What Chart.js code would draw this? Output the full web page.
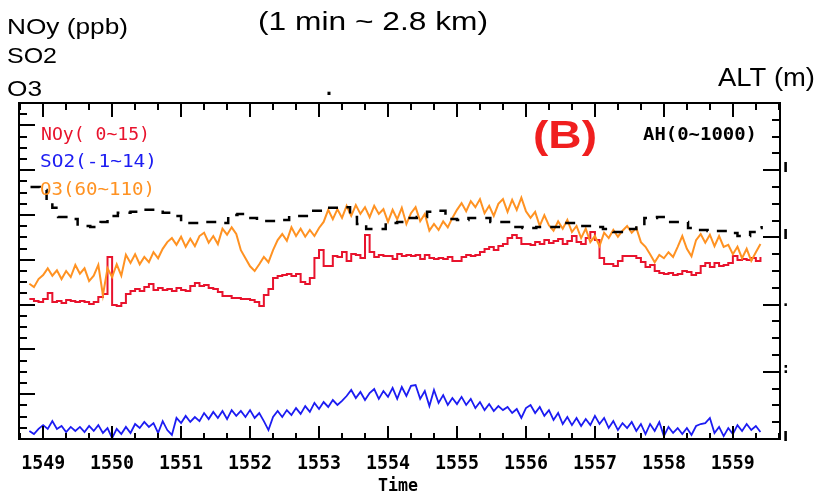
<!DOCTYPE html>
<html>
<head>
<meta charset="utf-8">
<script src="https://cdn.jsdelivr.net/npm/chart.js@4.4.1/dist/chart.umd.min.js"></script>
<style>
  html, body { margin: 0; padding: 0; background: #fff; }
  canvas { display: block; }
</style>
</head>
<body>
<canvas id="chart" width="830" height="493"></canvas>
<script>
// seconds after 15:49:00, one reading every 4 s
const secs = [-12,-8,-4,0,4,8,12,16,20,24,28,32,36,40,44,48,52,56,60,64,68,72,76,80,84,88,92,96,100,104,
  108,112,116,120,124,128,132,136,140,144,148,152,156,160,164,168,172,176,180,184,188,192,196,200,204,208,212,216,220,224,
  228,232,236,240,244,248,252,256,260,264,268,272,276,280,284,288,292,296,300,304,308,312,316,320,324,328,332,336,340,344,
  348,352,356,360,364,368,372,376,380,384,388,392,396,400,404,408,412,416,420,424,428,432,436,440,444,448,452,456,460,464,
  468,472,476,480,484,488,492,496,500,504,508,512,516,520,524,528,532,536,540,544,548,552,556,560,564,568,572,576,580,584,
  588,592,596,600,604,608,612,616,620,624];

// NOy (ppb), left axis 0~15
const noy = [6.25,6.16,6.12,6.25,6.52,6.12,6.16,6.07,6.21,6.16,
  6.12,6.16,6.12,6.03,6.12,6.34,6.47,8.13,5.98,5.94,
  6.07,6.47,6.61,6.70,6.61,6.79,6.92,6.65,6.74,6.65,
  6.70,6.61,6.74,6.65,6.61,6.83,6.96,6.83,6.88,6.74,
  6.70,6.56,6.38,6.38,6.29,6.29,6.25,6.25,6.21,6.12,
  5.94,6.43,6.70,7.19,7.28,7.32,7.37,7.28,7.37,7.01,
  6.92,7.19,8.08,8.44,7.72,7.72,8.17,8.13,8.35,7.95,
  8.26,8.21,8.08,9.11,8.35,8.13,8.21,8.17,8.17,8.04,
  8.26,8.17,8.21,8.17,8.21,8.04,8.21,8.08,8.04,8.08,
  8.04,8.13,7.95,7.95,8.13,8.21,8.17,8.21,8.35,8.48,
  8.57,8.44,8.62,8.71,8.97,9.11,8.97,8.71,8.71,8.66,
  8.79,8.71,8.88,8.75,8.84,8.93,8.71,8.84,9.06,8.79,
  8.71,8.97,9.24,8.88,8.08,7.81,7.81,7.72,7.95,8.17,
  8.17,8.17,8.08,7.90,7.68,7.77,7.50,7.41,7.37,7.41,
  7.32,7.37,7.50,7.46,7.32,7.41,7.72,7.86,7.68,7.86,
  7.72,7.77,7.86,8.17,7.99,8.04,7.99,8.08,7.95,8.13];

// SO2, scaled -1~14
const so2 = [-0.64,-0.78,-0.55,-0.38,-0.55,-0.20,-0.55,-0.42,-0.69,-0.46,
  -0.64,-0.46,-0.69,-0.42,-0.64,-0.38,-0.73,-0.51,-0.96,-0.55,
  -0.78,-0.46,-0.73,-0.33,-0.51,-0.24,-0.46,-0.29,-0.73,-0.20,
  -0.60,-0.82,-0.06,-0.29,0.03,-0.24,-0.02,-0.20,0.16,-0.11,
  0.21,-0.06,0.25,-0.11,0.29,0.03,0.25,-0.02,0.29,-0.06,
  0.16,-0.20,-0.60,-0.02,0.25,-0.02,0.29,0.07,0.38,0.12,
  0.47,0.21,0.61,0.34,0.65,0.43,0.74,0.52,0.70,0.92,
  1.19,0.83,1.10,0.74,1.05,1.23,0.79,1.14,0.88,1.28,
  0.79,1.32,0.92,1.37,1.41,0.79,1.14,0.47,1.19,0.61,
  0.96,0.52,0.83,0.56,0.88,0.52,0.79,0.38,0.65,0.29,
  0.56,0.25,0.47,0.29,0.43,0.16,0.34,-0.06,0.38,0.52,
  0.16,0.43,0.03,0.29,-0.15,0.16,-0.33,-0.02,-0.38,-0.06,
  -0.42,-0.11,-0.38,0.03,-0.33,-0.06,-0.51,-0.20,-0.60,-0.29,
  -0.51,-0.24,-0.64,-0.33,-0.78,-0.33,-0.64,-0.24,-0.87,-0.46,
  -0.73,-0.51,-0.78,-0.51,-0.82,-0.42,-0.33,-0.29,-0.06,-0.73,
  -0.46,-0.87,-0.51,-0.78,-0.38,-0.64,-0.33,-0.60,-0.42,-0.69];

// O3, scaled 60~110
const o3 = [83.1,82.6,83.8,84.4,85.4,84.3,85.1,83.8,85.0,84.1,
  85.9,84.6,85.4,83.5,84.3,85.9,81.4,85.4,84.1,86.0,
  84.3,87.4,86.2,87.5,86.0,87.1,86.3,87.8,86.9,88.3,
  89.3,89.9,88.9,90.1,88.6,89.8,88.7,90.2,90.7,89.2,
  90.2,89.0,91.3,90.4,91.5,90.5,88.1,86.9,85.7,85.0,
  86.0,87.1,86.3,88.1,89.6,90.5,89.5,91.5,90.2,91.3,
  90.1,91.1,90.2,91.4,92.3,94.1,92.7,94.2,92.9,94.7,
  93.2,94.8,93.5,94.5,93.0,94.7,93.5,94.2,92.3,94.1,
  92.7,94.4,92.0,93.6,94.5,92.4,93.5,91.0,92.0,91.1,
  92.4,91.5,92.9,94.1,95.1,93.9,95.4,94.5,95.7,93.6,
  94.7,93.2,95.0,95.7,93.8,95.6,94.1,95.9,93.9,92.9,
  93.8,91.7,93.3,91.8,91.0,92.4,91.3,92.6,90.8,91.7,
  89.9,91.3,89.3,90.2,88.7,90.7,89.9,91.1,90.1,91.0,
  91.7,90.7,91.4,89.3,88.6,87.5,86.3,87.4,86.9,87.8,
  87.1,88.6,90.2,88.3,87.2,89.6,90.5,89.2,90.4,88.7,
  90.2,88.6,88.9,87.5,88.6,86.9,88.3,86.5,87.8,89.0];

// aircraft altitude (m), right axis 0~1000
const altSecs = [-11,-3,3,8,13,23,30,41,50,56,65,76,85,96,104,112,120,130,141,151,161,169,178,186,196,
  206,214,223,235,243,254,261,267,273,281,290,298,308,315,325,334,341,350,360,370,380,389,399,409,417,
  429,439,450,458,467,478,487,496,508,516,523,534,543,551,561,569,578,586,596,604,615,622,625];
const alt = [750,741,702,688,661,655,634,631,646,664,673,676,682,682,673,664,643,643,646,643,667,670,658,649,649,
  652,664,664,679,688,688,690,661,640,625,625,643,646,658,661,676,679,655,652,658,658,646,646,631,628,
  631,631,643,643,634,631,625,616,625,634,658,661,646,646,628,622,619,619,613,604,616,628,634];

const timeLabels = ['1549','1550','1551','1552','1553','1554','1555','1556','1557','1558','1559'];
const timeTickSecs = [0,60,120,180,240,300,360,420,480,540,600];
const seriesNames = ['NOy( 0~15)', 'SO2(-1~14)', 'O3(60~110)'];
const altName = 'AH(0~1000)';
const altTickLabels = ['I', ':', '.', 'I', 'I', ''];   // what is left of the cut right labels
const altTickValues = [0, 200, 400, 600, 800, 1000];

const RED = '#e8132d', BLUE = '#1c1cf2', ORANGE = '#ff9222';

const pts = (xs, ys) => xs.map((x, i) => ({ x, y: ys[i] }));

// draws text squeezed/stretched to a given width
function fitText(ctx, text, x, base, w, font, color, align) {
  ctx.save();
  ctx.font = font;
  ctx.fillStyle = color;
  ctx.textAlign = 'left';
  ctx.textBaseline = 'alphabetic';
  const m = ctx.measureText(text).width;
  const left = align === 'center' ? x - w / 2 : x;
  ctx.translate(left, base);
  ctx.scale(w / m, 1);
  ctx.fillText(text, 0, 0);
  ctx.restore();
}

// frame, inward ticks and all the texts around the plot
const framePlugin = {
  id: 'frame',
  afterDraw(chart) {
    const { ctx, chartArea: a, scales } = chart;
    const sx = scales.x, yl = scales.yNoy, yr = scales.yAlt;
    ctx.save();
    ctx.strokeStyle = '#000';
    ctx.lineWidth = 2;
    ctx.strokeRect(a.left, a.top, a.right - a.left, a.bottom - a.top);
    ctx.beginPath();
    for (let s = -20; s <= 640; s += 20) {
      const px = Math.round(sx.getPixelForValue(s));
      const major = s % 60 === 0;
      ctx.moveTo(px, a.bottom); ctx.lineTo(px, a.bottom - (major ? 13 : 6));
      ctx.moveTo(px, a.top); ctx.lineTo(px, a.top + (major ? 14 : 7));
    }
    for (let v = 0.5; v < 15; v += 0.5) {
      const py = Math.round(yl.getPixelForValue(v));
      ctx.moveTo(a.left, py); ctx.lineTo(a.left + (v % 2 === 0 ? 16 : 8), py);
    }
    for (let v = 50; v < 1000; v += 50) {
      const py = Math.round(yr.getPixelForValue(v));
      ctx.moveTo(a.right, py); ctx.lineTo(a.right - (v % 200 === 0 ? 17 : 8), py);
    }
    ctx.stroke();
    ctx.restore();

    // time axis
    const pix = 'bold 19px "DejaVu Sans Mono"';
    timeLabels.forEach((lab, i) => {
      fitText(ctx, lab, sx.getPixelForValue(timeTickSecs[i]), 469, 44, pix, '#000', 'center');
    });
    fitText(ctx, 'Time', 398, 491, 40, 'bold 17px "DejaVu Sans Mono"', '#000', 'center');

    // cut-off labels of the altitude axis
    ctx.save();
    ctx.font = 'bold 14px "DejaVu Sans"';
    ctx.fillStyle = '#000';
    ctx.textBaseline = 'middle';
    altTickLabels.forEach((lab, i) => {
      ctx.fillText(lab, 783, yr.getPixelForValue(altTickValues[i]) - 2);
    });
    ctx.restore();

    // legend inside the plot
    const lf = '17px "DejaVu Sans Mono"';
    fitText(ctx, seriesNames[0], 41, 140, 109, lf, RED);
    fitText(ctx, seriesNames[1], 40, 167, 117, lf, BLUE);
    fitText(ctx, seriesNames[2], 40, 195, 115, lf, ORANGE);
    fitText(ctx, altName, 643, 140, 114, 'bold ' + lf, '#000');
    fitText(ctx, '(B)', 533, 148, 64, 'bold 38px "Liberation Sans"', '#f01f1f');

    // labels above the plot
    const af = (s) => s + 'px "Liberation Sans"';
    fitText(ctx, 'NOy (ppb)', 7, 34, 121, af(22), '#000');
    fitText(ctx, 'SO2', 7, 63, 50, af(22), '#000');
    fitText(ctx, 'O3', 7, 96, 35, af(22), '#000');
    fitText(ctx, '(1 min ~ 2.8 km)', 258, 30, 230, af(25), '#000');
    fitText(ctx, 'ALT (m)', 718, 86, 97, af(25), '#000');
    fitText(ctx, '.', 326, 95, 6, 'bold ' + af(22), '#000');
  }
};

new Chart(document.getElementById('chart').getContext('2d'), {
  type: 'line',
  data: {
    datasets: [
      { data: pts(altSecs, alt), yAxisID: 'yAlt', borderColor: '#000', borderWidth: 2.5,
        borderDash: [10, 9], stepped: true },
      { data: pts(secs, o3), yAxisID: 'yO3', borderColor: ORANGE, borderWidth: 2 },
      { data: pts(secs, noy), yAxisID: 'yNoy', borderColor: RED, borderWidth: 2, stepped: true },
      { data: pts(secs, so2), yAxisID: 'ySo2', borderColor: BLUE, borderWidth: 1.8 }
    ]
  },
  options: {
    responsive: false,
    animation: false,
    parsing: false,
    elements: { point: { radius: 0 } },
    layout: { padding: { left: 19, top: 103, right: 50, bottom: 54 } },
    plugins: { legend: { display: false }, tooltip: { enabled: false } },
    scales: {
      x: { type: 'linear', min: -21, max: 641, display: false },
      yNoy: { type: 'linear', min: 0, max: 15, display: false },
      ySo2: { type: 'linear', min: -1, max: 14, display: false },
      yO3: { type: 'linear', min: 60, max: 110, display: false },
      yAlt: { type: 'linear', min: 0, max: 1000, display: false }
    }
  },
  plugins: [framePlugin]
});
</script>
</body>
</html>
